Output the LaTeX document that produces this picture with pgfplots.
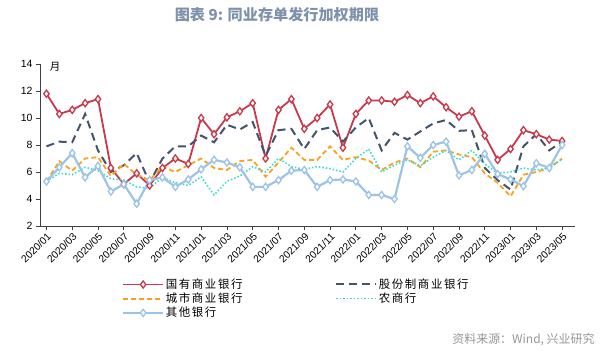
\documentclass[border=0pt]{standalone}
\usepackage{pgfplots}
\pgfplotsset{compat=1.18}
\usepackage{pgfplotstable}
\usepackage{fontspec}
\setmainfont{Liberation Sans}
\newfontfamily\cjk{Noto Sans CJK SC}
\newfontfamily\cjkl[LetterSpace=14]{Noto Sans CJK SC}
\definecolor{cred}{RGB}{200,57,75}
\definecolor{cdark}{RGB}{68,84,106}
\definecolor{corange}{RGB}{247,162,32}
\definecolor{ccyan}{RGB}{60,218,210}
\definecolor{cblue}{RGB}{157,195,230}
\definecolor{ctitle}{RGB}{125,145,170}
\definecolor{csrc}{RGB}{150,150,150}
\pgfplotstableread{
i gy gf cs ns qt
0 11.8 7.9 5.3 5.3 5.3
1 10.3 8.25 6.8 5.9 6.35
2 10.6 8.2 6.1 5.8 7.4
3 11.1 10.3 7.0 6.35 5.6
4 11.4 7.6 7.1 6.1 6.45
5 6.3 6.0 5.7 5.5 4.55
6 5.1 6.5 6.6 5.4 5.1
7 5.9 7.4 5.8 4.9 3.65
8 5.0 5.2 5.4 4.8 5.4
9 6.3 7.0 6.4 5.6 5.6
10 7.0 7.9 6.0 5.2 4.9
11 6.6 7.9 6.5 5.0 5.45
12 10.0 8.7 7.0 5.65 6.2
13 8.8 8.2 6.3 4.3 6.9
14 10.05 9.5 6.15 5.3 6.7
15 10.5 9.15 6.8 5.7 6.35
16 11.1 9.7 6.9 6.4 4.9
17 7.0 7.2 5.65 6.0 4.9
18 10.6 9.1 6.7 7.0 5.4
19 11.4 9.2 7.8 6.4 6.1
20 9.2 7.7 6.9 6.2 6.15
21 10.0 9.1 6.9 6.4 4.9
22 11.0 9.3 7.9 6.25 5.4
23 7.8 8.25 6.9 6.0 5.45
24 10.3 9.3 7.1 7.0 5.3
25 11.3 10.0 6.85 7.7 4.3
26 11.3 7.6 6.15 6.0 4.3
27 11.2 8.9 6.7 6.5 4.0
28 11.7 8.4 7.0 6.9 7.9
29 11.1 9.0 6.35 6.45 7.05
30 11.6 9.6 7.5 7.1 8.0
31 10.8 9.85 7.6 7.6 8.25
32 10.1 9.05 7.3 6.9 5.75
33 10.5 9.1 7.1 7.6 6.15
34 8.7 6.3 5.9 6.6 7.35
35 6.9 5.4 5.2 5.9 5.85
36 7.7 4.7 4.2 6.0 5.45
37 9.1 7.9 5.8 6.3 4.95
38 8.8 8.8 6.0 6.15 6.65
39 8.4 7.6 6.3 6.3 6.3
40 8.3 8.25 7.0 6.95 8.0
}\data
\begin{document}
\begin{tikzpicture}[x=1bp,y=1bp]
\path[use as bounding box] (0,0) rectangle (604,353);
\node[font=\cjk\bfseries\fontsize{15.2}{17}\selectfont, text=ctitle] at (277,338) {图表 9: 同业存单发行加权期限};
\node[font=\cjk\fontsize{12}{14}\selectfont, text=csrc, anchor=east] at (598,13) {资料来源：Wind, 兴业研究};
\begin{axis}[
  at={(40bp,127bp)}, anchor=south west,
  scale only axis, width=535bp, height=162bp,
  xmin=-0.5, xmax=41, ymin=2, ymax=14,
  ytick={2,4,...,14},
  xtick={0,2,...,40},
  xticklabels={2020/01,2020/03,2020/05,2020/07,2020/09,2020/11,2021/01,2021/03,2021/05,2021/07,2021/09,2021/11,2022/01,2022/03,2022/05,2022/07,2022/09,2022/11,2023/01,2023/03,2023/05},
  axis x line=bottom, axis y line=left,
  axis line style={-, black!75, line width=0.8bp},
  tick align=outside, major tick length=4bp,
  tick style={black!75, line width=0.8bp},
  /pgf/number format/assume math mode=true,
  y tick label style={font=\fontsize{10.5}{12}\selectfont},
  x tick label style={font=\fontsize{10.3}{12}\selectfont, rotate=45, anchor=north east, inner sep=1.5bp},
  clip=false,
  legend columns=2,
  legend cell align=left,
  legend style={at={(rel axis cs:0.153,-0.316)}, anchor=north west, draw=none, fill=none,
     font=\cjkl\fontsize{11.5}{13}\selectfont, row sep=0bp, inner sep=0bp,
     nodes={inner sep=1.5bp}},
  legend image code/.code={\draw[mark repeat=2,mark phase=2,#1] plot coordinates {(0bp,0bp) (20bp,0bp) (40bp,0bp)};},
]
\addplot[cred, line width=1.8bp, mark=diamond*, mark size=3.6bp, mark options={solid, fill=white, draw=cred, line width=1.3bp}] table[x=i,y=gy] {\data};
\addlegendentry{\makebox[168bp][l]{国有商业银行}}
\addplot[cdark, line width=2bp, dash pattern=on 8bp off 5bp] table[x=i,y=gf] {\data};
\addlegendentry{股份制商业银行}
\addplot[corange, line width=1.8bp, dash pattern=on 5bp off 3bp] table[x=i,y=cs] {\data};
\addlegendentry{\makebox[168bp][l]{城市商业银行}}
\addplot[ccyan, line width=1.6bp, dash pattern=on 1.5bp off 2bp] table[x=i,y=ns] {\data};
\addlegendentry{农商行}
\addplot[cblue, line width=2.2bp, mark=diamond*, mark size=3.6bp, mark options={solid, fill=white, draw=cblue, line width=1.3bp}] table[x=i,y=qt] {\data};
\addlegendentry{\makebox[168bp][l]{其他银行}}
\node[font=\cjk\fontsize{10.5}{12}\selectfont, anchor=west] at (rel axis cs:0.012,0.985) {月};
\end{axis}
\end{tikzpicture}
\end{document}
